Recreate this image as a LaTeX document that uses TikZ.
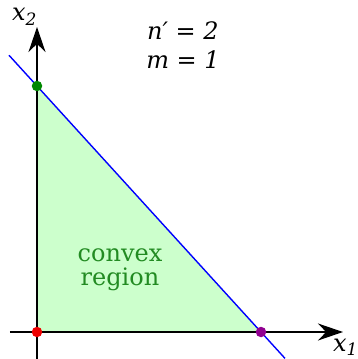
\documentclass[tikz,border=0pt]{standalone}
\usepackage{fontspec}
\setmainfont{DejaVu Serif}
\usetikzlibrary{arrows.meta, positioning}
\definecolor{regfill}{RGB}{204,255,204}
\definecolor{regtext}{RGB}{34,139,34}
\definecolor{dotgreen}{RGB}{0,136,0}
\definecolor{dotred}{RGB}{238,0,0}
\definecolor{dotpurple}{RGB}{144,0,144}
\tikzset{
  axis/.style={-{Stealth[length=25pt, width=17pt]}, line width=1.4pt, black},
  cons/.style={line width=1.4pt, blue},
  dot/.style={circle, inner sep=0pt, minimum size=10.5pt},
  lbl/.style={font=\fontsize{24}{29}\selectfont, inner sep=0pt},
  lblI/.style={lbl, anchor=base, font=\fontsize{24}{29}\selectfont\itshape},
}
\newcommand{\lowsub}[1]{\raisebox{-5pt}{\fontsize{17}{20}\selectfont#1}}

\begin{document}
\begin{tikzpicture}[x=1pt, y=1pt]
  \useasboundingbox (-37,-27) rectangle (320,332);

  % -- feasible region --
  \coordinate (O)  at (0,0);
  \coordinate (A2) at (0,246);
  \coordinate (A1) at (224,0);
  \fill[regfill] (O) -- (A2) -- (A1) -- cycle;
  \node[lbl, regtext, align=center] (reg) at (83,62)
       {convex\\[-5pt]region};

  % -- axes --
  \coordinate (xs) at (-27,0);
  \coordinate (xe) at (306,0);
  \coordinate (ys) at (0,-27);
  \coordinate (ye) at (0,305);
  \draw[axis] (xs) -- (xe);
  \draw[axis] (ys) -- (ye);
  \node[lblI, anchor=base west] (x1) at (296,-19) {x\lowsub{1}};
  \node[lblI, anchor=base west] (x2) at (-25,311) {x\lowsub{2}};

  % -- constraint line --
  \coordinate (Ls) at (-28,276.75);
  \coordinate (Le) at (248,-26.4);
  \draw[cons] (Ls) -- (Le);

  % -- vertices --
  \node[dot, fill=dotgreen]  (v2) at (A2) {};
  \node[dot, fill=dotred]    (v0) at (O)  {};
  \node[dot, fill=dotpurple] (v1) at (A1) {};

  % -- dimensions --
  \node[lblI] (nd) at (146,292) {n′ = 2};
  \node[lblI] (md) at (146,263) {m = 1};
\end{tikzpicture}
\end{document}
